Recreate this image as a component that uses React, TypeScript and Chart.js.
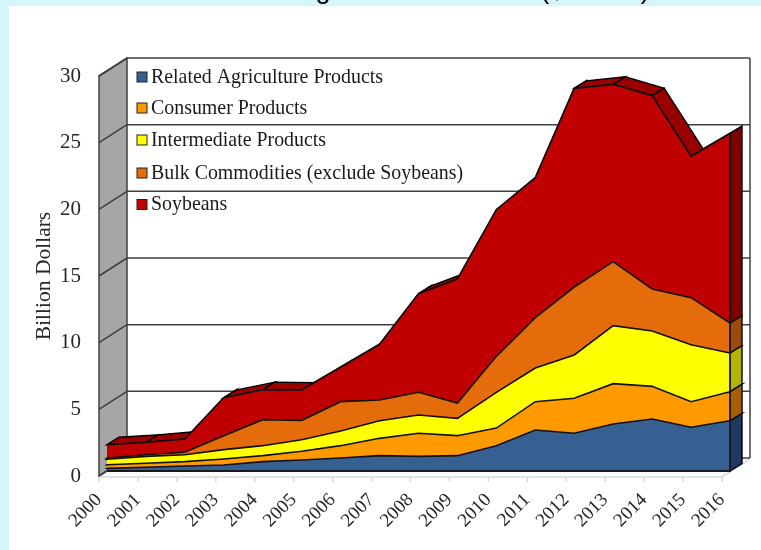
import { useEffect, useRef } from "react";
import { Chart, registerables } from "chart.js";

Chart.register(...registerables);

const years = ["2000","2001","2002","2003","2004","2005","2006","2007","2008","2009","2010","2011","2012","2013","2014","2015","2016"];

// Annual export values, billion dollars, per product group.
const relatedAgriculture = [0.2,0.28,0.37,0.45,0.7,0.82,0.97,1.15,1.1,1.15,1.9,3.07,2.83,3.52,3.9,3.28,3.77];
const consumerProducts = [0.27,0.3,0.33,0.45,0.45,0.66,0.93,1.3,1.73,1.5,1.32,2.13,2.62,3.03,2.45,1.92,2.18];
const intermediateProducts = [0.41,0.52,0.52,0.7,0.75,0.87,1.1,1.32,1.37,1.3,2.68,2.52,3.25,4.35,4.15,4.27,2.9];
const bulkCommodities = [0.09,0.12,0.18,1.05,1.95,1.45,2.2,1.56,1.7,1.15,2.7,3.78,5.1,4.8,3.15,3.53,2.25];
const soybeans = [1.0,0.93,1.0,2.85,2.25,2.27,2.58,4.17,7.4,9.3,11.0,10.5,14.9,13.3,14.5,10.6,14.2];

const seriesNames = ["Related Agriculture Products","Consumer Products","Intermediate Products","Bulk Commodities (exclude Soybeans)","Soybeans"];
const seriesValues = [relatedAgriculture, consumerProducts, intermediateProducts, bulkCommodities, soybeans];
const seriesFronts = ["#376092","#FF9900","#FFFF00","#E46C0A","#C00000"];
const seriesSides = ["#1F3864","#A85F00","#B3B300","#9C4A07","#800000"];
const seriesTops = ["#2A4A72","#C47600","#CCCC00","#B55608","#990000"];

const serif = '"Liberation Serif", serif';
const wallEdge = "#404040";

// Depth of the box, and where the area ribbon sits within it.
const boxDepth = { x: 28, y: -18 };
const ribbonNear = { x: 8, y: -5 };
const ribbonFar = { x: 20, y: -12.5 };

const panelPlugin = {
  id: "panel",
  beforeDraw(chart: any) {
    const { ctx, width, height } = chart;
    ctx.save();
    ctx.fillStyle = "#D6F5FA";
    ctx.fillRect(0, 0, width, height);
    ctx.fillStyle = "#FFFFFF";
    ctx.fillRect(9, 6, width - 9, height - 6);

    // Heading that runs off the top of the frame
    ctx.fillStyle = "#000000";
    ctx.font = `27px "Liberation Sans", sans-serif`;
    ctx.textBaseline = "alphabetic";
    ctx.textAlign = "center";
    ctx.fillText("g", 323, -2.5);
    ctx.fillText("($ billion)", 595, -2.5);
    ctx.restore();
  },
};

const boxPlugin = {
  id: "box3d",
  beforeDatasetsDraw(chart: any) {
    const { ctx, scales } = chart;
    const x = scales.x;
    const y = scales.y;
    const left = x.getPixelForValue(0);
    const right = x.getPixelForValue(years.length - 1);
    const y0 = y.getPixelForValue(0);
    const yMax = y.getPixelForValue(30);
    ctx.save();

    // Floor
    ctx.strokeStyle = "#D9D9D9";
    ctx.lineWidth = 1.5;
    ctx.beginPath();
    ctx.moveTo(left, y0 + 1);
    ctx.lineTo(right, y0 + 1);
    ctx.lineTo(right + boxDepth.x, y0 + boxDepth.y + 1);
    ctx.stroke();
    years.forEach((_, i) => {
      const px = x.getPixelForValue(i);
      ctx.beginPath();
      ctx.moveTo(px, y0 + 1);
      ctx.lineTo(px, y0 + 6);
      ctx.stroke();
    });

    // Back wall gridlines and right edge
    ctx.strokeStyle = wallEdge;
    ctx.lineWidth = 1.5;
    y.ticks.forEach((t: any) => {
      const py = y.getPixelForValue(t.value) + boxDepth.y;
      ctx.beginPath();
      ctx.moveTo(left + boxDepth.x, py);
      ctx.lineTo(right + boxDepth.x, py);
      ctx.stroke();
    });
    ctx.beginPath();
    ctx.moveTo(right + boxDepth.x, yMax + boxDepth.y);
    ctx.lineTo(right + boxDepth.x, y0 + boxDepth.y);
    ctx.stroke();

    // Side wall
    ctx.fillStyle = "#A6A6A6";
    ctx.beginPath();
    ctx.moveTo(left, yMax);
    ctx.lineTo(left + boxDepth.x, yMax + boxDepth.y);
    ctx.lineTo(left + boxDepth.x, y0 + boxDepth.y);
    ctx.lineTo(left, y0);
    ctx.closePath();
    ctx.fill();
    ctx.stroke();
    y.ticks.forEach((t: any) => {
      const py = y.getPixelForValue(t.value);
      ctx.beginPath();
      ctx.moveTo(left, py);
      ctx.lineTo(left + boxDepth.x, py + boxDepth.y);
      ctx.stroke();
    });

    // Top faces of the ribbon, running back from the upper edge of each series
    ctx.strokeStyle = "#000000";
    ctx.lineWidth = 1.4;
    let totals = years.map(() => 0);
    const tops = seriesValues.map((vals) => {
      totals = totals.map((v, i) => v + vals[i]);
      return totals.slice();
    });
    tops.forEach((tot, s) => {
      ctx.fillStyle = seriesTops[s];
      for (let i = 0; i < years.length - 1; i++) {
        const ax = x.getPixelForValue(i);
        const bx = x.getPixelForValue(i + 1);
        const ay = y.getPixelForValue(tot[i]);
        const by = y.getPixelForValue(tot[i + 1]);
        ctx.beginPath();
        ctx.moveTo(ax + ribbonNear.x, ay + ribbonNear.y);
        ctx.lineTo(bx + ribbonNear.x, by + ribbonNear.y);
        ctx.lineTo(bx + ribbonFar.x, by + ribbonFar.y);
        ctx.lineTo(ax + ribbonFar.x, ay + ribbonFar.y);
        ctx.closePath();
        ctx.fill();
        ctx.stroke();
      }
    });

    // End faces of the ribbon at the last year
    const last = years.length - 1;
    const endX = x.getPixelForValue(last);
    let below = y.getPixelForValue(0);
    tops.forEach((tot, s) => {
      const py = y.getPixelForValue(tot[last]);
      ctx.fillStyle = seriesSides[s];
      ctx.beginPath();
      ctx.moveTo(endX + ribbonNear.x, below + ribbonNear.y);
      ctx.lineTo(endX + ribbonFar.x, below + ribbonFar.y);
      ctx.lineTo(endX + ribbonFar.x, py + ribbonFar.y);
      ctx.lineTo(endX + ribbonNear.x, py + ribbonNear.y);
      ctx.closePath();
      ctx.fill();
      ctx.stroke();
      below = py;
    });
    ctx.restore();

    // Front faces are drawn by the line controller, shifted into the box
    ctx.save();
    ctx.translate(ribbonNear.x, ribbonNear.y);
  },
  afterDatasetsDraw(chart: any) {
    const { ctx, scales } = chart;
    ctx.restore();
    const x = scales.x;
    const y = scales.y;
    ctx.save();
    // Front baseline and the vertical front edge of the end faces
    ctx.strokeStyle = "#1A1A1A";
    ctx.lineWidth = 1.8;
    const endX = x.getPixelForValue(years.length - 1) + ribbonNear.x;
    const baseY = y.getPixelForValue(0) + ribbonNear.y;
    const total = seriesValues.reduce((sum, vals) => sum + vals[years.length - 1], 0);
    ctx.beginPath();
    ctx.moveTo(x.getPixelForValue(0) + ribbonNear.x, baseY);
    ctx.lineTo(endX, baseY);
    ctx.lineTo(endX, y.getPixelForValue(total) + ribbonNear.y);
    ctx.stroke();

    // Legend
    const swatchX = 137;
    const rowY = [77, 108, 140, 173, 204.5];
    ctx.font = `19.9px ${serif}`;
    ctx.textBaseline = "middle";
    seriesNames.forEach((name, i) => {
      ctx.fillStyle = seriesFronts[i];
      ctx.strokeStyle = "#222222";
      ctx.lineWidth = 1;
      ctx.fillRect(swatchX, rowY[i] - 5, 10, 10);
      ctx.strokeRect(swatchX, rowY[i] - 5, 10, 10);
      ctx.fillStyle = "#1A1A1A";
      ctx.fillText(name, 151, rowY[i] + 0.5);
    });
    ctx.restore();
  },
};

export default function App() {
  const canvasRef = useRef<HTMLCanvasElement>(null);

  useEffect(() => {
    document.body.style.margin = "0";
    const canvas = canvasRef.current;
    if (!canvas) return;
    const chart = new Chart(canvas, {
      type: "line",
      data: {
        labels: years,
        datasets: seriesNames.map((name, i) => ({
          label: name,
          data: seriesValues[i],
          backgroundColor: seriesFronts[i],
          borderColor: "#111111",
          borderWidth: 1.6,
          pointRadius: 0,
          tension: 0,
          fill: i === 0 ? "origin" : "-1",
          stack: "exports",
        })),
      },
      options: {
        animation: false,
        responsive: false,
        layout: { padding: { left: 0, right: 39, top: 76, bottom: 0 } },
        plugins: { legend: { display: false }, tooltip: { enabled: false } },
        scales: {
          x: {
            type: "category",
            offset: false,
            grid: { display: false },
            border: { display: false },
            afterFit(scale: any) {
              scale.height = 74;
            },
            ticks: {
              autoSkip: false,
              maxRotation: 45,
              minRotation: 45,
              padding: 5,
              labelOffset: 0,
              color: "#262626",
              font: { family: serif, size: 19 },
            },
          },
          y: {
            stacked: true,
            min: 0,
            max: 30,
            grid: { display: false },
            border: { display: false },
            afterFit(scale: any) {
              scale.width = 99;
            },
            title: {
              display: true,
              text: "Billion Dollars",
              color: "#262626",
              font: { family: serif, size: 21.5 },
              padding: { top: 31, bottom: 0 },
            },
            ticks: {
              stepSize: 5,
              padding: 10,
              color: "#262626",
              font: { family: serif, size: 21 },
            },
          },
        },
      },
      plugins: [panelPlugin, boxPlugin],
    });
    return () => chart.destroy();
  }, []);

  return <canvas ref={canvasRef} width={761} height={550} style={{ display: "block" }} />;
}
